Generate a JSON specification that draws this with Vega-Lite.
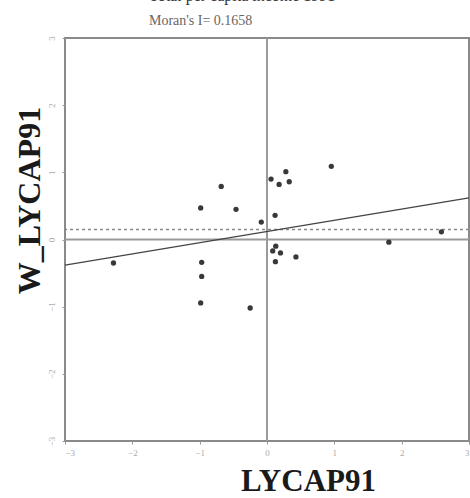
{
  "$schema": "https://vega.github.io/schema/vega-lite/v6.json",
  "width": 404,
  "height": 403,
  "autosize": {"type": "none"},
  "padding": {"left": 65, "top": 38, "right": 1, "bottom": 57},
  "background": "white",
  "title": {
    "text": "Total per capita income 1991",
    "subtitle": "Moran's I= 0.1658",
    "anchor": "start",
    "dx": 136,
    "font": "Liberation Serif",
    "fontSize": 16,
    "fontWeight": "normal",
    "color": "#333",
    "subtitleFont": "Liberation Serif",
    "subtitleFontSize": 14,
    "subtitleColor": "#666",
    "subtitlePadding": 10,
    "offset": 8
  },
  "config": {
    "view": {"stroke": "#8a8a8a", "strokeWidth": 2},
    "axis": {
      "domain": false,
      "grid": false,
      "tickColor": "#999",
      "tickSize": 3,
      "labelColor": "#aaa",
      "labelFont": "Liberation Serif",
      "labelFontSize": 9,
      "titleFont": "Liberation Serif",
      "titleFontWeight": "bold",
      "titleColor": "#1a1a1a"
    }
  },
  "datasets": {
    "pts": [
      {"x": 0.955, "y": 1.09},
      {"x": 0.28, "y": 1.01},
      {"x": 0.06, "y": 0.9},
      {"x": 0.18, "y": 0.82},
      {"x": 0.33, "y": 0.86},
      {"x": -0.68, "y": 0.79},
      {"x": -0.985, "y": 0.47},
      {"x": -0.46, "y": 0.45},
      {"x": -0.085, "y": 0.26},
      {"x": 0.12, "y": 0.36},
      {"x": 0.13, "y": -0.1},
      {"x": 0.085, "y": -0.17},
      {"x": 0.2, "y": -0.2},
      {"x": 0.43, "y": -0.26},
      {"x": 0.125, "y": -0.33},
      {"x": -0.97, "y": -0.34},
      {"x": -0.97, "y": -0.55},
      {"x": -2.28, "y": -0.35},
      {"x": -0.985, "y": -0.945},
      {"x": -0.25, "y": -1.02},
      {"x": 2.59, "y": 0.115},
      {"x": 1.81, "y": -0.04}
    ],
    "fit": [
      {"x": -3, "y": -0.38},
      {"x": 3, "y": 0.62}
    ]
  },
  "layer": [
    {
      "data": {"values": [{"v": 0}]},
      "mark": {"type": "rule", "color": "#9a9a9a", "strokeWidth": 2},
      "encoding": {"y": {"field": "v", "type": "quantitative", "scale": {"domain": [-3, 3]}}}
    },
    {
      "data": {"values": [{"v": 0}]},
      "mark": {"type": "rule", "color": "#9a9a9a", "strokeWidth": 2},
      "encoding": {"x": {"field": "v", "type": "quantitative", "scale": {"domain": [-3, 3]}}}
    },
    {
      "data": {"values": [{"v": 0.15}]},
      "mark": {"type": "rule", "color": "#888", "strokeWidth": 1.5, "strokeDash": [3, 3]},
      "encoding": {"y": {"field": "v", "type": "quantitative"}}
    },
    {
      "data": {"name": "fit"},
      "mark": {"type": "line", "color": "#444", "strokeWidth": 1.3},
      "encoding": {
        "x": {"field": "x", "type": "quantitative"},
        "y": {"field": "y", "type": "quantitative"}
      }
    },
    {
      "data": {"name": "pts"},
      "mark": {"type": "point", "filled": true, "shape": "circle", "size": 28, "color": "#222", "opacity": 0.9},
      "encoding": {
        "x": {
          "field": "x", "type": "quantitative",
          "scale": {"domain": [-3, 3], "nice": false, "zero": false},
          "axis": {"values": [-3, -2, -1, 0, 1, 2, 3], "format": "d", "title": "LYCAP91", "titleFontSize": 31, "titleX": 243, "titleY": 49, "titleBaseline": "alphabetic", "titleAnchor": "middle", "titleAlign": "center", "labelPadding": 4}
        },
        "y": {
          "field": "y", "type": "quantitative",
          "scale": {"domain": [-3, 3], "nice": false, "zero": false},
          "axis": {"values": [-3, -2, -1, 0, 1, 2, 3], "format": "d", "title": "W_LYCAP91", "titleFontSize": 32, "titleX": -36, "titleY": 162, "titleBaseline": "middle", "titleAngle": -90, "titleAlign": "center", "titleAnchor": "middle", "labelAngle": -90, "labelPadding": 6}
        }
      }
    }
  ]
}
